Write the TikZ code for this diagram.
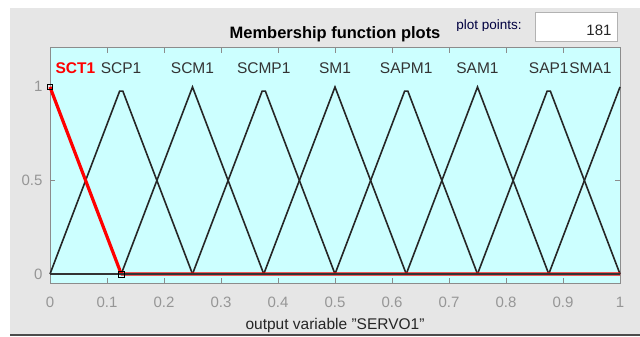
\documentclass[tikz,border=0pt]{standalone}
\usepackage{fontspec}
\setmainfont{Liberation Sans}
\definecolor{panelgray}{RGB}{230,230,230}
\definecolor{plotcyan}{RGB}{204,255,255}
\definecolor{tickgray}{RGB}{150,150,150}
\definecolor{axisgray}{RGB}{140,140,140}
\tikzset{
  ticklabel/.style={text=tickgray, font=\fontsize{15}{15}\selectfont, inner sep=0pt},
  mflabel/.style={text=black!80, font=\fontsize{15.5}{15.5}\selectfont, inner sep=0pt, anchor=base},
  mfline/.style={line width=1.6pt, black!85, line join=miter},
}

\begin{document}
\begin{tikzpicture}[x=1pt, y=-1pt, line width=1pt]
\useasboundingbox (0,0) rectangle (640,337);
% draw gray panel
\fill[panelgray] (10,8) rectangle (640,334);
\fill[black!70] (10,334) rectangle (640,336);

% title and plot points box
\node[font=\bfseries\fontsize{16.5}{16.5}\selectfont, inner sep=0pt, anchor=base] (title) at (335,38.5) {Membership function plots};
\begin{scope}
  \clip (440,10) rectangle (530,30.2);
  \node[font=\fontsize{13.5}{13.5}\selectfont, text=black!75!blue, inner sep=0pt, anchor=base] (plotpts) at (489,30) {plot points:};
\end{scope}
\filldraw[fill=white, draw=black!30] (535,13) rectangle (617,42);
\node[font=\fontsize{15}{15}\selectfont, inner sep=0pt, anchor=base east, text=black!85] (npts) at (612,35.5) {181};

% draw plot area
\filldraw[fill=plotcyan, draw=axisgray] (50,48) rectangle (620,283);
% draw ticks
\draw[axisgray] (107,48) -- (107,53) (164,48) -- (164,53) (221,48) -- (221,53)
  (278,48) -- (278,53) (335,48) -- (335,53) (392,48) -- (392,53)
  (449,48) -- (449,53) (506,48) -- (506,53) (563,48) -- (563,53);
\draw[axisgray] (107,283) -- (107,278) (164,283) -- (164,278) (221,283) -- (221,278)
  (278,283) -- (278,278) (335,283) -- (335,278) (392,283) -- (392,278)
  (449,283) -- (449,278) (506,283) -- (506,278) (563,283) -- (563,278);
\draw[axisgray] (50,180.5) -- (55,180.5) (620,180.5) -- (615,180.5);

% draw membership functions
\begin{scope}[shift={(50pt,-274pt)}, x=570pt, y=187pt]
  \draw[mfline] (0,0) -- (0.1222,0.978) -- (0.1278,0.978) -- (0.25,0);
  \draw[mfline] (0.125,0) -- (0.25,1) -- (0.375,0);
  \draw[mfline] (0.25,0) -- (0.3722,0.978) -- (0.3778,0.978) -- (0.5,0);
  \draw[mfline] (0.375,0) -- (0.5,1) -- (0.625,0);
  \draw[mfline] (0.5,0) -- (0.6222,0.978) -- (0.6278,0.978) -- (0.75,0);
  \draw[mfline] (0.625,0) -- (0.75,1) -- (0.875,0);
  \draw[mfline] (0.75,0) -- (0.8722,0.978) -- (0.8778,0.978) -- (1,0);
  \draw[mfline] (0.875,0) -- (1,1);
  % selected function
  \draw[red, line width=3.2pt, line join=round] (0,1) -- (0.125,0) -- (1,0);
  \draw[line width=1.2pt, black!80] (0,0) -- (1,0);
  \draw[line width=0.9pt] (0,1) ++(-2.5pt,-2.5pt) rectangle ++(5pt,5pt);
  \draw[line width=0.9pt] (0.125,0) ++(-3pt,-3pt) rectangle ++(6pt,6pt);
\end{scope}

% membership function names
\node[mflabel, anchor=base west, text=red, font=\bfseries\fontsize{15.5}{15.5}\selectfont] (sct) at (55,74) {SCT1};
\node[mflabel] (scp) at (121,74) {SCP1};
\node[mflabel] (scm) at (192.5,74) {SCM1};
\node[mflabel] (scmp) at (263.75,74) {SCMP1};
\node[mflabel] (sm) at (335,74) {SM1};
\node[mflabel] (sapm) at (406.25,74) {SAPM1};
\node[mflabel] (sam) at (477.5,74) {SAM1};
\node[mflabel] (sap) at (548.75,74) {SAP1};
\node[mflabel, anchor=base east] (sma) at (612,74) {SMA1};

% y axis labels
\node[ticklabel, anchor=base east] (yone) at (43,91.5) {1};
\node[ticklabel, anchor=base east] (yhalf) at (43,185.5) {0.5};
\node[ticklabel, anchor=base east] (yzero) at (43,279.5) {0};

% x axis labels
\node[ticklabel, anchor=base] (x0) at (50,307) {0};
\node[ticklabel, anchor=base] (x1) at (107,307) {0.1};
\node[ticklabel, anchor=base] (x2) at (164,307) {0.2};
\node[ticklabel, anchor=base] (x3) at (221,307) {0.3};
\node[ticklabel, anchor=base] (x4) at (278,307) {0.4};
\node[ticklabel, anchor=base] (x5) at (335,307) {0.5};
\node[ticklabel, anchor=base] (x6) at (392,307) {0.6};
\node[ticklabel, anchor=base] (x7) at (449,307) {0.7};
\node[ticklabel, anchor=base] (x8) at (506,307) {0.8};
\node[ticklabel, anchor=base] (x9) at (563,307) {0.9};
\node[ticklabel, anchor=base] (x10) at (620,307) {1};

% axis title
\node[font=\fontsize{15.5}{15.5}\selectfont, inner sep=0pt, anchor=base, text=black!85] (xlabel) at (335,329.5) {output variable \symbol{34}SERVO1\symbol{34}};
\end{tikzpicture}
\end{document}
